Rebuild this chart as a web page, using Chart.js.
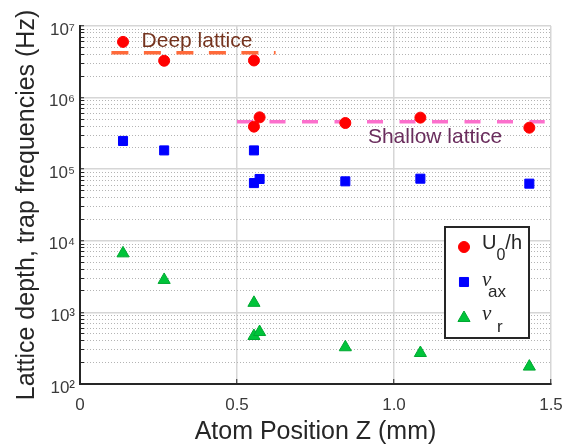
<!DOCTYPE html>
<html>
<head>
<meta charset="utf-8">
<script src="https://cdn.jsdelivr.net/npm/chart.js@4/dist/chart.umd.min.js"></script>
<style>
  html, body { margin: 0; padding: 0; background: #ffffff; }
  #wrap { width: 576px; height: 447px; }
</style>
</head>
<body>
<div id="wrap"><canvas id="chartTrap" width="576" height="447"></canvas></div>
<script>
// atom position Z (mm) for each measurement, shared by the three series
const positionZ = [0.137, 0.268, 0.554, 0.554, 0.572, 0.845, 1.084, 1.431];
// lattice depth U0/h (Hz)
const depthU0 = [6.0e6, 3.27e6, 3.3e6, 3.93e5, 5.3e5, 4.42e5, 5.25e5, 3.8e5];
// axial trap frequency (Hz)
const nuAxial = [2.48e5, 1.83e5, 1.83e5, 6.4e4, 7.3e4, 6.77e4, 7.37e4, 6.28e4];
// radial trap frequency (Hz)
const nuRadial = [6.68e3, 2.84e3, 1.36e3, 468, 532, 326, 271, 175];

// reference levels drawn as dashed lines: [zStart, zEnd], depth
const deepSpan = [0.1, 0.623];
const deepLevel = 4.24e6;
const shallowSpan = [0.5, 1.48];
const shallowLevel = 4.6e5;

// text labels for the two levels: z, depth at text baseline
const deepLabel = { text: "Deep lattice", z: 0.196, v: 5.14e6 };
const shallowLabel = { text: "Shallow lattice", z: 0.917, v: 2.3e5 };

const yDecades = [2, 3, 4, 5, 6, 7];
const yTickLabels = ["10\u00B2", "10\u00B3", "10\u2074", "10\u2075", "10\u2076", "10\u2077"];
const xTicks = [0, 0.5, 1, 1.5];

const FONT = "'Liberation Sans', Arial, sans-serif";
const TEXT = "#262626";
const RED = "#ff0000";
const BLUE = "#0000ff";
const GREEN = "#00c43a";

const pts = (xs, ys) => xs.map((x, i) => ({ x, y: ys[i] }));
const isDecade = (v) => Math.abs(Math.log10(v) - Math.round(Math.log10(v))) < 1e-6;

// annotation texts + hand-drawn legend (Chart.js legend can't do subscripts)
const overlayPlugin = {
  id: "overlay",
  afterDatasetsDraw(chart) {
    const { ctx, scales } = chart;
    ctx.save();
    ctx.font = `21px ${FONT}`;
    ctx.textBaseline = "alphabetic";
    ctx.textAlign = "left";
    ctx.fillStyle = "#75341f";
    ctx.fillText(deepLabel.text, scales.x.getPixelForValue(deepLabel.z), scales.y.getPixelForValue(deepLabel.v));
    ctx.fillStyle = "#6a2d5d";
    ctx.fillText(shallowLabel.text, scales.x.getPixelForValue(shallowLabel.z), scales.y.getPixelForValue(shallowLabel.v));
    ctx.restore();
  },
  afterDraw(chart) {
    const { ctx } = chart;
    const ds = chart.data.datasets;
    ctx.save();
    // box
    ctx.fillStyle = "#ffffff";
    ctx.fillRect(445, 227, 84, 111);
    ctx.strokeStyle = TEXT;
    ctx.lineWidth = 2;
    ctx.strokeRect(445, 227, 84, 111);

    const mark = (d, y) => {
      ctx.fillStyle = d.backgroundColor;
      ctx.strokeStyle = d.borderColor;
      ctx.lineWidth = d.borderWidth;
      Chart.helpers.drawPoint(ctx, { pointStyle: d.pointStyle, radius: d.pointRadius, rotation: 0, borderWidth: d.borderWidth }, 464, y);
    };
    mark(ds[2], 247);
    mark(ds[3], 282);
    mark(ds[4], 318);

    ctx.fillStyle = TEXT;
    ctx.textBaseline = "alphabetic";
    ctx.textAlign = "left";
    // U_0/h
    ctx.font = `20px ${FONT}`;
    ctx.fillText("U", 482, 249);
    const w = ctx.measureText("U").width;
    ctx.font = `16px ${FONT}`;
    ctx.fillText("0", 482 + w, 260);
    const w0 = ctx.measureText("0").width;
    ctx.font = `20px ${FONT}`;
    ctx.fillText("/h", 482 + w + w0, 249);
    // nu_ax
    ctx.font = `italic 21px 'Liberation Serif', serif`;
    ctx.fillText("\u03BD", 482, 286);
    ctx.font = `17px ${FONT}`;
    ctx.fillText("ax", 488, 297);
    // nu_r
    ctx.font = `italic 21px 'Liberation Serif', serif`;
    ctx.fillText("\u03BD", 482, 320);
    ctx.font = `17px ${FONT}`;
    ctx.fillText("r", 497, 332);
    ctx.restore();
  },
};

new Chart(document.getElementById("chartTrap").getContext("2d"), {
  type: "scatter",
  data: {
    datasets: [
      {
        label: "Deep lattice",
        data: pts(deepSpan, [deepLevel, deepLevel]),
        showLine: true,
        borderColor: "#ff6a3a",
        borderWidth: 3.5,
        borderDash: [17, 15.5],
        borderCapStyle: "butt",
        pointRadius: 0,
        order: 5,
      },
      {
        label: "Shallow lattice",
        data: pts(shallowSpan, [shallowLevel, shallowLevel]),
        showLine: true,
        borderColor: "#fb6fcc",
        borderWidth: 3.5,
        borderDash: [16, 16.5],
        borderCapStyle: "butt",
        pointRadius: 0,
        order: 5,
      },
      {
        label: "U0/h",
        data: pts(positionZ, depthU0),
        pointStyle: "circle",
        pointRadius: 5.5,
        backgroundColor: RED,
        borderColor: RED,
        borderWidth: 1,
        order: 1,
      },
      {
        label: "nu_ax",
        data: pts(positionZ, nuAxial),
        pointStyle: "rect",
        pointRadius: 6.4,
        backgroundColor: BLUE,
        borderColor: BLUE,
        borderWidth: 1,
        order: 1,
      },
      {
        label: "nu_r",
        data: pts(positionZ, nuRadial),
        pointStyle: "triangle",
        pointRadius: 7,
        backgroundColor: GREEN,
        borderColor: "#00a832",
        borderWidth: 1,
        order: 1,
      },
    ],
  },
  options: {
    responsive: false,
    animation: false,
    layout: { padding: { top: 26, right: 25, left: 0, bottom: 0 } },
    plugins: { legend: { display: false }, tooltip: { enabled: false } },
    scales: {
      x: {
        type: "linear",
        min: 0,
        max: 1.5,
        afterBuildTicks: (scale) => { scale.ticks = xTicks.map((value) => ({ value })); },
        // fixed axis box; drop label overhang so the plot area doesn't shrink
        afterFit: (scale) => { scale.height = 63; scale.paddingLeft = 0; scale.paddingRight = 0; },
        ticks: { color: "#3a3a3a", font: { family: FONT, size: 17 }, padding: 16, maxRotation: 0 },
        grid: { color: "#d6d6d6", lineWidth: 1.5, drawTicks: true, tickLength: -5, tickColor: TEXT, tickWidth: 1 },
        border: { color: TEXT, width: 2 },
        title: { display: true, text: "Atom Position Z (mm)", color: TEXT, font: { family: FONT, size: 25 }, padding: { top: 0, bottom: 0 } },
      },
      y: {
        type: "logarithmic",
        min: 1e2,
        max: 1e7,
        afterBuildTicks: (scale) => {
          const t = [];
          yDecades.forEach((d, i) => {
            const steps = i === yDecades.length - 1 ? 1 : 9;
            for (let m = 1; m <= steps; m++) t.push({ value: m * Math.pow(10, d) });
          });
          scale.ticks = t;
        },
        afterFit: (scale) => { scale.width = 80; scale.paddingTop = 0; scale.paddingBottom = 0; },
        ticks: {
          autoSkip: false,
          color: "#3a3a3a",
          font: { family: FONT, size: 17 },
          padding: 9,
          labelOffset: 4,
          callback: (value) => {
            if (!isDecade(value)) return "";
            return yTickLabels[yDecades.indexOf(Math.round(Math.log10(value)))];
          },
        },
        grid: {
          color: (ctx) => (ctx.tick && isDecade(ctx.tick.value) ? "#d6d6d6" : "#b4b4b4"),
          lineWidth: (ctx) => (ctx.tick && isDecade(ctx.tick.value) ? 1.5 : 1),
          drawTicks: true,
          tickLength: -4,
          tickColor: TEXT,
          tickWidth: 1,
        },
        border: {
          color: TEXT,
          width: 2,
          dash: (ctx) => (ctx.tick && !isDecade(ctx.tick.value) ? [1, 2] : []),
        },
        title: { display: true, text: "Lattice depth, trap frequencies (Hz)", color: TEXT, font: { family: FONT, size: 25 }, padding: { top: 12, bottom: 0 } },
      },
    },
  },
  plugins: [overlayPlugin],
});
</script>
</body>
</html>
